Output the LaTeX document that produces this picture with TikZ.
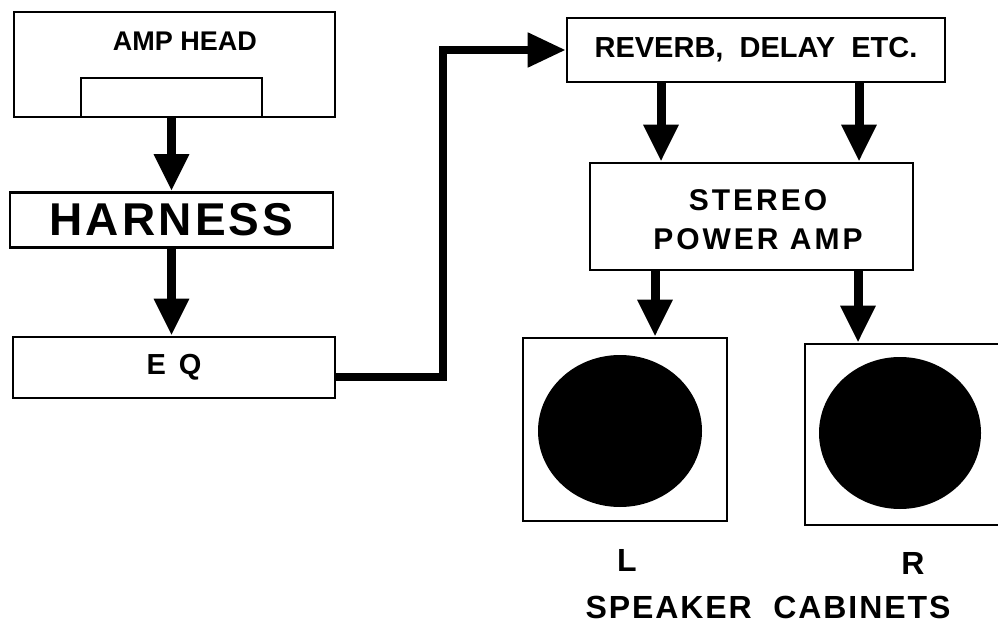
\documentclass[tikz,border=0pt]{standalone}
\usepackage{fontspec}
\setmainfont{Liberation Sans}
\usetikzlibrary{arrows.meta,shapes.geometric}
\begin{document}
\begin{tikzpicture}[x=1pt,y=-1pt,
  box/.style={draw, line width=2.6pt, inner sep=0pt, fill=white},
  lab/.style={inner sep=0pt, font=\bfseries\fontsize{28}{39}\selectfont, align=center},
  arr/.style={line width=9pt, -{Triangle[length=37pt,width=33pt]}},
  conn/.style={line width=8pt, line join=miter, -{Triangle[length=38pt,width=33pt]}},
  cone/.style={ellipse, fill=black, draw=none, inner sep=0pt}
]
\useasboundingbox[fill=white] (0,0) rectangle (998,628);

% left column
\node[box, minimum width=321, minimum height=105] (amphead) at (174.5,64.5) {};
\node[box, minimum width=181, minimum height=39] (amppanel) at (171.5,97.5) {};
\node[lab, font=\bfseries\fontsize{27}{30}\selectfont] (amptext) at (185,41) {AMP HEAD};

\node[box, minimum width=323, minimum height=55] (harness) at (171.5,220)
  {\fontsize{46}{50}\selectfont\bfseries\addfontfeature{LetterSpace=7}HARNESS};

\node[box, minimum width=322, minimum height=61] (eq) at (174,367.5)
  {\bfseries\fontsize{29}{30}\selectfont E\hspace{13pt}Q};

\draw[arr] (amppanel.south) -- (harness.north);
\draw[arr] (harness.south) -- (harness.south |- eq.north);

% right column
\node[box, minimum width=378, minimum height=64] (reverb) at (756,50)
  {\bfseries\fontsize{29}{30}\selectfont REVERB,\ \ DELAY\ \ ETC.};

\node[box, minimum width=323, minimum height=107] (stereo) at (751.5,216.5) {};
\node[lab, font=\bfseries\fontsize{30}{39}\selectfont\addfontfeature{LetterSpace=10}] (stereotext) at (758,219.5) {STEREO\\POWER AMP};

\node[box, minimum width=204, minimum height=183] (lcab) at (625,429.5) {};
\node[box, minimum width=205, minimum height=181] (rcab) at (907.5,434.5) {};
\node[cone, minimum width=164, minimum height=152] (lcone) at (620,431) {};
\node[cone, minimum width=162, minimum height=152] (rcone) at (900,433) {};

\node[lab, font=\bfseries\fontsize{32}{34}\selectfont] (ltext) at (627,560) {L};
\node[lab, font=\bfseries\fontsize{32}{34}\selectfont] (rtext) at (913,563) {R};
\node[lab, font=\bfseries\fontsize{32}{34}\selectfont\addfontfeature{LetterSpace=6}] (spk) at (768,607) {SPEAKER\ \ CABINETS};

% connectors
\draw[conn] (eq.east |- 0,377) -| (443,50) -- (reverb.west);
\draw[arr] (reverb.south -| 661,0) -- (stereo.north -| 661,0);
\draw[arr] (reverb.south -| 859,0) -- (stereo.north -| 859,0);
\draw[arr] (stereo.south -| 655,0) -- (lcab.north -| 655,0);
\draw[arr] (stereo.south -| 858,0) -- (rcab.north -| 858,0);
\end{tikzpicture}
\end{document}
